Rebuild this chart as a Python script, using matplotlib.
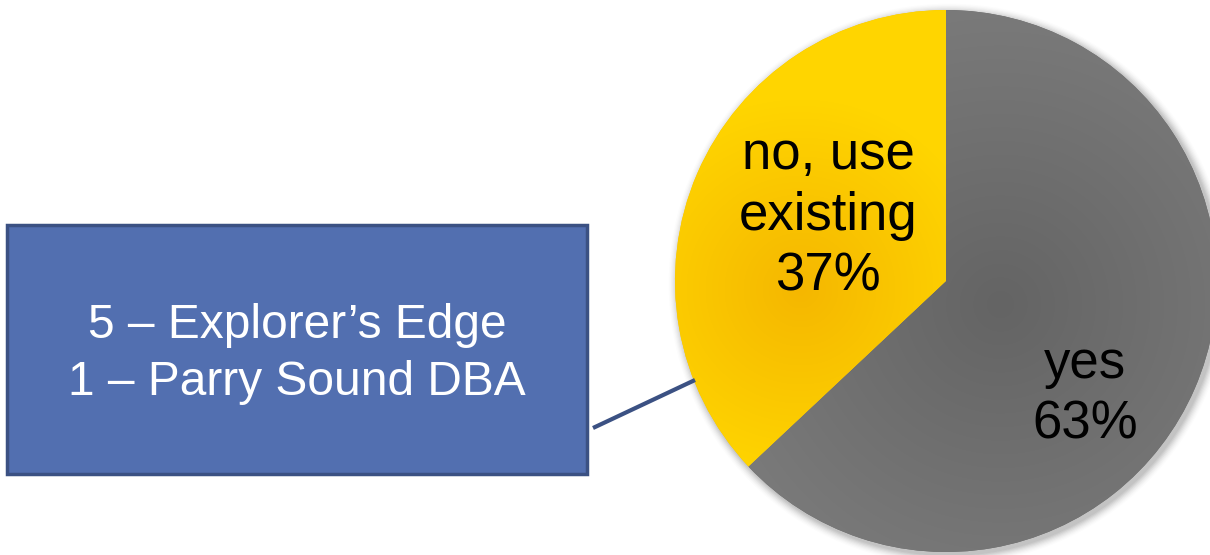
import numpy as np
import matplotlib
matplotlib.use("Agg")
import matplotlib.pyplot as plt
from matplotlib.patches import Rectangle, Circle

plt.rcParams["font.family"] = ["Liberation Sans", "DejaVu Sans"]

# data
labels = ["yes", "no, use\nexisting"]
shares = [63, 37]
box_lines = ["5 \u2013 Explorer\u2019s Edge", "1 \u2013 Parry Sound DBA"]

W, H = 1210, 555
fig = plt.figure(figsize=(W / 100, H / 100), dpi=100)
ax = fig.add_axes([0, 0, 1, 1])

cx, cy, r = 946, 274, 271

# soft shadow under the pie
for i, a in enumerate(np.linspace(0.05, 0.012, 8)):
    ax.add_patch(Circle((cx + 3, cy - 3), r + 1 + i * 1.2, color="black",
                        alpha=a, lw=0, zorder=1))

wedges, _ = ax.pie(shares, startangle=90, counterclock=False, center=(cx, cy),
                   radius=r, colors=["#6a6a6a", "#f8c400"],
                   wedgeprops=dict(lw=0), frame=True)
for w in wedges:
    w.set_zorder(2)

# radial gradients per slice
xx, yy = np.meshgrid(np.arange(660, W + 1), np.arange(0, H + 1))


def radial(x0, y0, rad, c_in, c_out):
    d = np.clip(np.hypot(xx - x0, yy - y0) / rad, 0, 1)[..., None]
    c_in = np.array(matplotlib.colors.to_rgb(c_in))
    c_out = np.array(matplotlib.colors.to_rgb(c_out))
    return c_in * (1 - d) + c_out * d


grads = [radial(1000, 250, 300, "#646464", "#7a7a7a"),
         radial(800, 265, 190, "#f5b700", "#ffd500")]
for w, g in zip(wedges, grads):
    im = ax.imshow(g, extent=(660, W + 1, 0, H + 1), origin="lower",
                   zorder=3, interpolation="bilinear")
    im.set_clip_path(w)

ax.text(1085, 161, "yes\n63%", ha="center", va="center", fontsize=38,
        linespacing=1.27, color="black", zorder=5)
ax.text(828, 339, "no, use\nexisting\n37%", ha="center", va="center",
        fontsize=38, linespacing=1.27, color="black", zorder=5)

# callout box and connector
ax.plot([593, 695], [127, 175], color="#3b5183", lw=3, zorder=4,
        solid_capstyle="butt")
ax.add_patch(Rectangle((7, 81), 580, 249, facecolor="#526fb0",
                       edgecolor="#3b5183", lw=2.5, zorder=4))
ax.text(297, 201, "\n".join(box_lines), ha="center", va="center",
        fontsize=34.5, linespacing=1.36, color="white", zorder=5)

ax.set_xlim(0, W)
ax.set_ylim(0, H)
ax.set_aspect("auto")
ax.axis("off")

fig.savefig("out.png", dpi=100)
